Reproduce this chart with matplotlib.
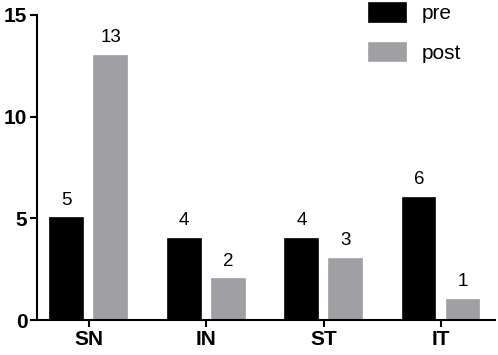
import numpy as np
import matplotlib
matplotlib.use("Agg")
import matplotlib.pyplot as plt

categories = ["SN", "IN", "ST", "IT"]
pre = [5, 4, 4, 6]
post = [13, 2, 3, 1]

plt.rcParams['font.family'] = ['Liberation Sans', 'DejaVu Sans']

fig = plt.figure(figsize=(4.98, 3.55), dpi=100)
ax = fig.add_axes([37/498, 35/355, 458/498, 305/355])

x = np.arange(len(categories))
w = 0.28
off = 0.1875
b1 = ax.bar(x - off, pre, w, color='black', edgecolor='black', linewidth=1.2, label='pre')
b2 = ax.bar(x + off, post, w, color='#a0a0a4', edgecolor='#a0a0a4', linewidth=1.2, label='post')

for bars, vals in ((b1, pre), (b2, post)):
    for r, v in zip(bars, vals):
        ax.annotate(str(v), (r.get_x() + r.get_width()/2, v), xytext=(0, 7),
                    textcoords='offset points', ha='center', va='bottom', fontsize=13.5)

ax.set_xlim(-0.44, 3.46)
ax.set_ylim(0, 15)
ax.set_yticks([0, 5, 10, 15])
ax.set_xticks(x)
ax.set_xticklabels(categories)
for lab in ax.get_xticklabels() + ax.get_yticklabels():
    lab.set_fontweight('bold')
    lab.set_fontsize(15)

for s in ('top', 'right'):
    ax.spines[s].set_visible(False)
for s in ('left', 'bottom'):
    ax.spines[s].set_linewidth(1.5)
ax.tick_params(width=1.5, length=5, pad=2)

ax.legend(loc='upper left', bbox_to_anchor=(369/498, 352/355), bbox_transform=fig.transFigure,
          frameon=False, fontsize=15, handlelength=1.78, handleheight=1.0,
          labelspacing=0.92, borderpad=0, borderaxespad=0, handletextpad=0.75)

fig.savefig("out.png", dpi=100)
